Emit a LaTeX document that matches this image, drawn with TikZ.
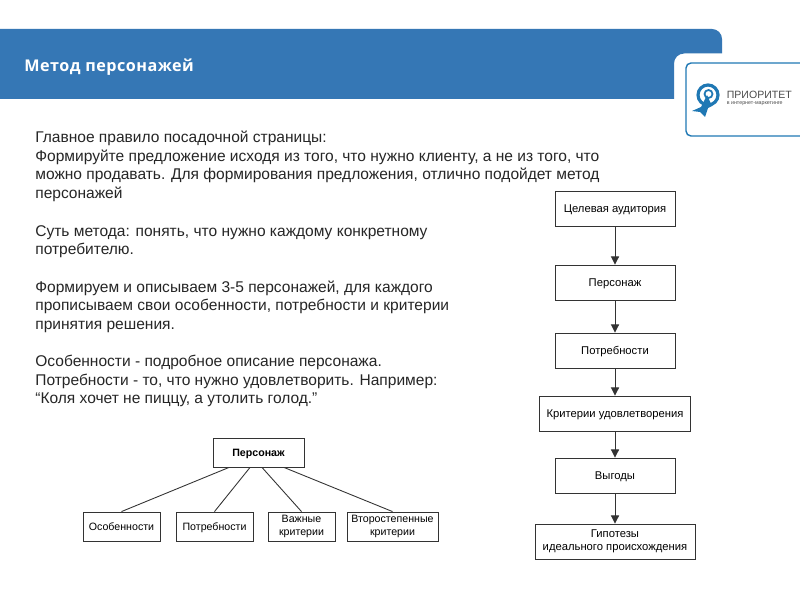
\documentclass[tikz,border=0pt]{standalone}
\usepackage{fontspec}
\setmainfont{Liberation Sans}
\newfontfamily\titlefont[LetterSpace=3]{Open Sans}
\usetikzlibrary{arrows.meta}
\definecolor{barblue}{HTML}{3577B5}
\definecolor{logoblue}{HTML}{1F78B4}
\definecolor{boxline}{HTML}{333333}
\begin{document}
\begin{tikzpicture}[
        block/.style={rectangle, draw=boxline, line width=0.5pt, fill=white, align=center, font=\fontsize{6.4}{7.4}\selectfont, inner sep=0pt},
        treeblock/.style={block, font=\fontsize{6.05}{6.9}\selectfont},
        oneline/.style={text height=6pt, text depth=1.4pt},
        arrow/.style={-{Triangle[length=4.6pt,width=4.6pt]}, line width=0.5pt, draw=boxline},
        link/.style={line width=0.5pt, draw=boxline},
        bodytext/.style={anchor=north west, align=left, inner sep=0pt, font=\fontsize{8.84}{10.6}\selectfont, text=black!85}
    ]
        \useasboundingbox (0,0) rectangle (16,12);
        \fill[white] (0,0) rectangle (16,12);

        % Header band
        \fill[barblue] (0,10.02) -- (13.48,10.02) [rounded corners=0.2cm] -- (13.48,10.93) [sharp corners] -- (14.44,10.93) [rounded corners=0.2cm] -- (14.44,11.42) [sharp corners] -- (0,11.42) -- cycle;
        \node[anchor=west, text=white, inner sep=0pt, font=\titlefont\bfseries\fontsize{9.2}{10}\selectfont] (title) at (0.48,10.66) {Метод персонажей};

        % Logo
        \draw[logoblue, line width=0.8pt, rounded corners=0.1cm] (16.2,10.74) -- (13.72,10.74) -- (13.72,9.28) -- (16.2,9.28);
        \draw[logoblue, line width=1.8pt] (14.16,10.1) circle (0.2);
        \draw[logoblue, line width=1pt] (14.17,10.12) circle (0.08);
        \fill[logoblue] (13.84,9.78) -- (14.02,9.86) -- (14.14,10.1) -- (14.24,9.88) -- (14.16,9.84) -- (14.1,9.66) -- (14.0,9.76) -- cycle;
        \node[anchor=west, text=black!70, inner sep=0pt, font=\fontsize{6}{7}\selectfont] (logo) at (14.53,10.1) {ПРИОРИТЕТ};
        \node[anchor=west, text=black!70, inner sep=0pt, font=\fontsize{3}{3}\selectfont] (logosub) at (14.53,9.92) {в интернет-маркетинге};

        % Text
        \node[bodytext] (intro) at (0.7,9.39) {Главное правило посадочной страницы:\\Формируйте предложение исходя из того, что нужно клиенту, а не из того, что\\можно продавать. Для формирования предложения, отлично подойдет метод\\персонажей};
        \node[bodytext] (core) at (0.7,7.5) {Суть метода: понять, что нужно каждому конкретному\\потребителю.\\[10.6pt]Формируем и описываем 3-5 персонажей, для каждого\\прописываем свои особенности, потребности и критерии\\принятия решения.\\[10.6pt]Особенности - подробное описание персонажа.\\Потребности - то, что нужно удовлетворить. Например:\\“Коля хочет не пиццу, а утолить голод.”};

        % Character tree
        \node[treeblock, oneline, font=\fontsize{6.05}{6.9}\selectfont\bfseries, minimum width=1.82cm, minimum height=0.58cm] (hero) at (5.17,2.95) {Персонаж};
        \node[treeblock, oneline, minimum width=1.54cm, minimum height=0.58cm] (traits) at (2.43,1.47) {Особенности};
        \node[treeblock, oneline, minimum width=1.54cm, minimum height=0.58cm] (needs) at (4.29,1.47) {Потребности};
        \node[treeblock, minimum width=1.34cm, minimum height=0.58cm] (crit) at (6.03,1.47) {Важные\\критерии};
        \node[treeblock, minimum width=1.82cm, minimum height=0.58cm] (minor) at (7.85,1.47) {Второстепенные\\критерии};

        \draw[link] ([xshift=-0.59cm]hero.south) -- (traits.north);
        \draw[link] ([xshift=-0.17cm]hero.south) -- (needs.north);
        \draw[link] ([xshift=0.07cm]hero.south) -- (crit.north);
        \draw[link] ([xshift=0.51cm]hero.south) -- (minor.north);

        % Flow chain
        \node[block, oneline, minimum width=2.4cm, minimum height=0.7cm] (audience) at (12.3,7.83) {Целевая аудитория};
        \node[block, oneline, minimum width=2.4cm, minimum height=0.7cm] (person) at (12.3,6.35) {Персонаж};
        \node[block, oneline, minimum width=2.4cm, minimum height=0.7cm] (demand) at (12.3,4.99) {Потребности};
        \node[block, oneline, minimum width=3.02cm, minimum height=0.7cm] (match) at (12.3,3.73) {Критерии удовлетворения};
        \node[block, oneline, minimum width=2.4cm, minimum height=0.7cm] (gain) at (12.3,2.49) {Выгоды};
        \node[block, minimum width=3.2cm, minimum height=0.7cm] (guess) at (12.3,1.17) {Гипотезы\\идеального происхождения};

        \draw[arrow] (audience) -- (person);
        \draw[arrow] (person) -- (demand);
        \draw[arrow] (demand) -- (match);
        \draw[arrow] (match) -- (gain);
        \draw[arrow] (gain) -- (guess);

    \end{tikzpicture}
\end{document}
